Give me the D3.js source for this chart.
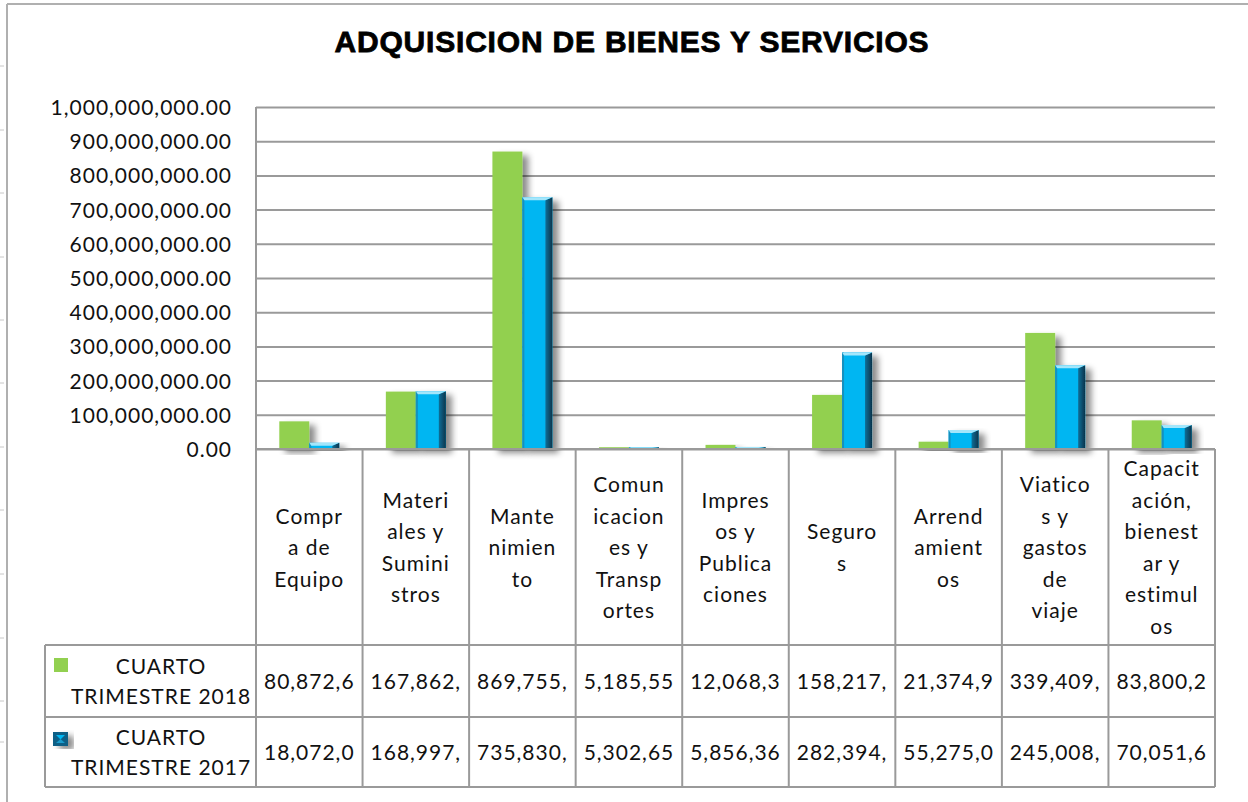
<!DOCTYPE html>
<html>
<head>
<meta charset="utf-8">
<script src="https://cdn.jsdelivr.net/npm/d3@7"></script>
<style>
    body { margin: 0; background: #fff; }
    svg { display: block; }
    .ylab text { font-family: Lato, "DejaVu Sans", sans-serif; font-size: 21px; letter-spacing: 1px; fill: #111; }
    .cell { font-family: Lato, "DejaVu Sans", sans-serif; font-size: 21px; letter-spacing: 1px; fill: #111; }
</style>
</head>
<body>
<svg id="chart" width="1248" height="802"></svg>
<script>
const title = "ADQUISICION DE BIENES Y SERVICIOS";

const categories = ["Compra de Equipo", "Materiales y Suministros", "Mantenimiento", "Comunicaciones y Transportes",
    "Impresos y Publicaciones", "Seguros", "Arrendamientos", "Viaticos y gastos de viaje", "Capacitación, bienestar y estimulos"];

// how Excel wrapped the category names in the table header
const categoryLines = [
    ["Compr", "a de", "Equipo"],
    ["Materi", "ales y", "Sumini", "stros"],
    ["Mante", "nimien", "to"],
    ["Comun", "icacion", "es y", "Transp", "ortes"],
    ["Impres", "os y", "Publica", "ciones"],
    ["Seguro", "s"],
    ["Arrend", "amient", "os"],
    ["Viatico", "s y", "gastos", "de", "viaje"],
    ["Capacit", "ación,", "bienest", "ar y", "estimul", "os"]
];

const seriesNames = ["CUARTO TRIMESTRE 2018", "CUARTO TRIMESTRE 2017"];
const values2018 = [80872600, 167862000, 869755000, 5185550, 12068300, 158217000, 21374900, 339409000, 83800200];
const values2017 = [18072000, 168997000, 735830000, 5302650, 5856360, 282394000, 55275000, 245008000, 70051600];
const yTicks = [0, 100000000, 200000000, 300000000, 400000000, 500000000, 600000000, 700000000, 800000000, 900000000, 1000000000];

const svg = d3.select("#chart");
const plotL = 256, plotR = 1215, plotT = 107, base = 449;
const headBottom = 645, row1Bottom = 717, tableBottom = 787, legendLeft = 45;
const lineColor = "#9a9a9a";

const x = d3.scaleBand().domain(categories).range([plotL, plotR]).paddingInner(0).paddingOuter(0);
const xs = d3.scaleBand().domain(seriesNames).range([0, x.bandwidth()]).paddingOuter(0.777);
const y = d3.scaleLinear().domain([0, 1000000000]).range([base, plotT]);

const defs = svg.append("defs");
const sh = defs.append("filter").attr("id", "shadow").attr("x", "-20%").attr("y", "-10%").attr("width", "160%").attr("height", "130%");
sh.append("feDropShadow").attr("dx", 6).attr("dy", 4).attr("stdDeviation", 3)
    .attr("flood-color", "#000").attr("flood-opacity", 0.45);
const side = defs.append("linearGradient").attr("id", "blueSide");
side.append("stop").attr("offset", "0%").attr("stop-color", "#0d6f98");
side.append("stop").attr("offset", "100%").attr("stop-color", "#06344b");

// page frame and spreadsheet ticks on the far left
svg.append("line").attr("x1", 7).attr("x2", 1248).attr("y1", 4).attr("y2", 4).attr("stroke", "#b0b0b0").attr("stroke-width", 2);
svg.append("line").attr("x1", 7).attr("x2", 7).attr("y1", 4).attr("y2", 802).attr("stroke", "#b0b0b0").attr("stroke-width", 2);
[66, 130, 193, 257, 320, 383, 447, 510, 574, 638, 701, 742].forEach(t => {
    svg.append("line").attr("x1", 0).attr("x2", 4).attr("y1", t).attr("y2", t).attr("stroke", "#c8c8c8");
});

svg.append("text").attr("x", 632).attr("y", 52).attr("text-anchor", "middle")
    .attr("font-family", "'Liberation Sans', Arial, sans-serif").attr("font-weight", "bold")
    .attr("font-size", 30).attr("letter-spacing", 0.8)
    .attr("stroke", "#000").attr("stroke-width", 0.8).attr("fill", "#000")
    .text(title);

// gridlines + y labels
const yAxis = svg.append("g").attr("class", "ylab").attr("transform", `translate(${plotL},0)`)
    .call(d3.axisLeft(y).tickValues(yTicks).tickSize(-(plotR - plotL)).tickPadding(24).tickFormat(d3.format(",.2f")));
yAxis.select(".domain").remove();
yAxis.selectAll("line").attr("stroke", lineColor).attr("stroke-width", 2);
yAxis.selectAll("text").attr("dy", "0.36em");
svg.append("line").attr("x1", plotL).attr("x2", plotL).attr("y1", plotT).attr("y2", tableBottom).attr("stroke", lineColor).attr("stroke-width", 2);

// bars
const groups = svg.append("g").selectAll("g").data(categories).join("g")
    .attr("transform", d => `translate(${x(d)},0)`);

groups.append("rect")
    .attr("x", xs(seriesNames[0]))
    .attr("y", (d, i) => y(values2018[i]))
    .attr("width", xs.bandwidth())
    .attr("height", (d, i) => base - y(values2018[i]))
    .attr("fill", "#92d050")
    .attr("filter", "url(#shadow)");

const blue = groups.append("g").attr("filter", "url(#shadow)");
blue.each(function (d, i) {
    const g = d3.select(this);
    const x0 = xs(seriesNames[1]), x1 = x0 + xs.bandwidth();
    const yt = y(values2017[i]);
    const h = base - yt;
    const ins = Math.min(3, h / 2);
    g.append("rect").attr("x", x0).attr("y", yt).attr("width", x1 - x0).attr("height", h).attr("fill", "#00b6f2");
    g.append("rect").attr("x", x0).attr("y", yt).attr("width", 2).attr("height", h).attr("fill", "#1590be");
    g.append("polygon").attr("points", [[x1 - 7, yt + ins], [x1, yt], [x1, base], [x1 - 7, base]].join(" "))
        .attr("fill", "url(#blueSide)");
    g.append("polygon").attr("points", [[x0, yt], [x1, yt], [x1 - 7, yt + ins], [x0 + 2, yt + ins]].join(" "))
        .attr("fill", "#a3e6fb");
});

// data table
const hl = (y1, x1) => svg.append("line").attr("x1", x1).attr("x2", plotR).attr("y1", y1).attr("y2", y1)
    .attr("stroke", lineColor).attr("stroke-width", 2);
hl(base, plotL); hl(headBottom, legendLeft); hl(row1Bottom, legendLeft); hl(tableBottom, legendLeft);
x.domain().forEach(c => {
    const xe = x(c) + x.bandwidth();
    svg.append("line").attr("x1", xe).attr("x2", xe).attr("y1", base).attr("y2", tableBottom)
        .attr("stroke", lineColor).attr("stroke-width", 2);
});
svg.append("line").attr("x1", legendLeft).attr("x2", legendLeft).attr("y1", headBottom).attr("y2", tableBottom)
    .attr("stroke", lineColor).attr("stroke-width", 2);

const lineH = 31.5;
categoryLines.forEach((lines, i) => {
    const cx = x(categories[i]) + x.bandwidth() / 2;
    const y0 = 548 - (lines.length - 1) * lineH / 2 + 7;
    svg.append("text").attr("class", "cell").attr("text-anchor", "middle")
        .selectAll("tspan").data(lines).join("tspan")
        .attr("x", cx).attr("y", (d, j) => y0 + j * lineH).text(d => d);
});

const fmtCell = v => d3.format(",")(v).slice(0, 8);
[values2018, values2017].forEach((vals, r) => {
    const cy = r === 0 ? (headBottom + row1Bottom) / 2 : (row1Bottom + tableBottom) / 2;
    vals.forEach((v, i) => {
        svg.append("text").attr("class", "cell").attr("text-anchor", "middle")
            .attr("x", x(categories[i]) + x.bandwidth() / 2).attr("y", cy + 8).text(fmtCell(v));
    });
    const words = seriesNames[r].split(" ");
    svg.append("text").attr("class", "cell").attr("text-anchor", "middle")
        .selectAll("tspan").data([words[0], words.slice(1).join(" ")]).join("tspan")
        .attr("x", 161).attr("y", (d, j) => cy - 7 + j * 29.5).text(d => d);
});

// legend keys
svg.append("rect").attr("x", 54).attr("y", 658).attr("width", 14).attr("height", 14).attr("fill", "#92d050");
const key = svg.append("g").attr("filter", "url(#shadow)");
key.append("rect").attr("x", 53).attr("y", 732).attr("width", 15).attr("height", 14).attr("fill", "#0b5f86");
key.append("polygon").attr("points", "56,735 65,735 60.5,739.5").attr("fill", "#00b6f2");
key.append("polygon").attr("points", "56,743 65,743 60.5,739").attr("fill", "#1a9ccc");
</script>
</body>
</html>
